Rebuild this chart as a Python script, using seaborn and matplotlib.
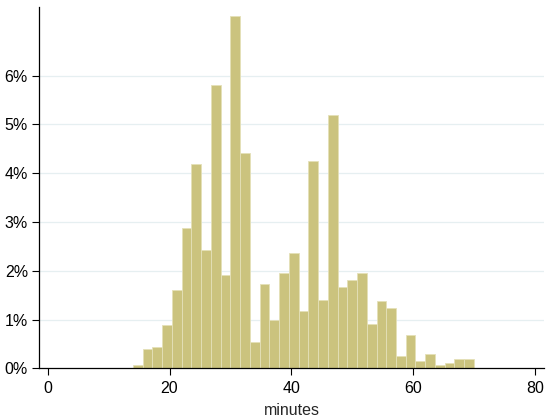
import matplotlib
matplotlib.use("Agg")
import matplotlib.pyplot as plt
import numpy as np
import pandas as pd
import seaborn as sns

# bins of width 1.6 minutes from 14 to 70
bin_start = 14.0
bin_width = 1.6
pct = [0.06, 0.40, 0.44, 0.88, 1.61, 2.88, 4.19, 2.42, 5.80, 1.91,
       7.22, 4.41, 0.54, 1.72, 1.00, 1.95, 2.36, 1.17, 4.24, 1.41,
       5.20, 1.67, 1.80, 1.95, 0.90, 1.39, 1.24, 0.25, 0.68, 0.16,
       0.30, 0.06, 0.10, 0.20, 0.20]
x_ticks = [0, 20, 40, 60, 80]
y_ticks = [0, 1, 2, 3, 4, 5, 6]

n = len(pct)
centers = bin_start + bin_width * (np.arange(n) + 0.5)
df = pd.DataFrame({"minutes": centers, "pct": pct})

sns.set_style("white")
plt.rcParams['font.family'] = ['Liberation Sans', 'DejaVu Sans']

fig = plt.figure(figsize=(5.5, 4.2), dpi=100)
ax = fig.add_axes([0.071, 0.123, 0.918, 0.861])

for t in y_ticks[1:]:
    ax.axhline(t, color='#e6eff1', lw=0.9, zorder=0)

sns.histplot(data=df, x="minutes", weights="pct", binwidth=bin_width,
             binrange=(bin_start, bin_start + bin_width * n), ax=ax,
             color='#cbc37e', edgecolor='#e4e0b8', linewidth=0.6, alpha=1)

ax.set_xlim(-1.43, 81.5)
ax.set_ylim(0, 7.41)
ax.set_xticks(x_ticks)
ax.set_yticks(y_ticks)
ax.set_yticklabels([f"{t}%" for t in y_ticks])
ax.set_xlabel("minutes", fontsize=11.5, labelpad=5)
ax.set_ylabel("")
ax.tick_params(axis='both', direction='out', length=5, width=0.8,
               labelsize=11.5, colors='black', pad=4, bottom=True, left=True)
ax.tick_params(axis='y', pad=3)
for s in ['top', 'right']:
    ax.spines[s].set_visible(False)
for s in ['left', 'bottom']:
    ax.spines[s].set_color('black')
    ax.spines[s].set_linewidth(0.9)

fig.savefig("out.png", dpi=100)
